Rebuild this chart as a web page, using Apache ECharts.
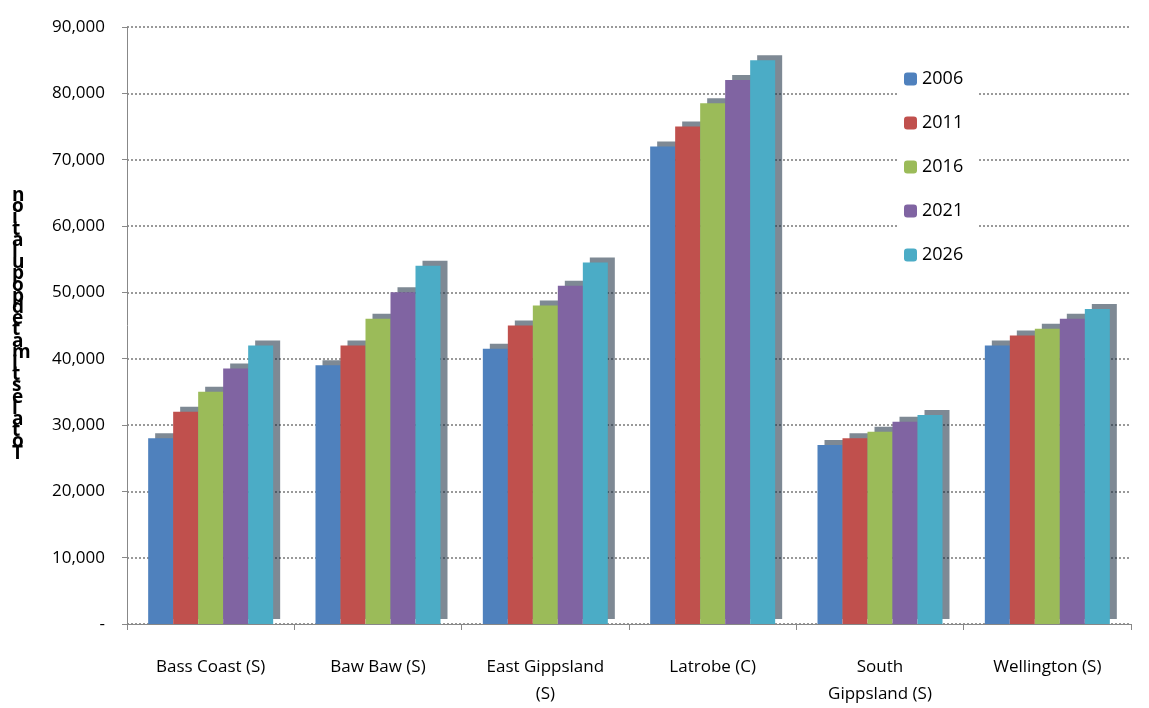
<!DOCTYPE html>
<html lang="en">
<head>
    <meta charset="UTF-8">
    <title>Gippsland population</title>
</head>
<body style="margin:0;background:#fff;">
<div id="chart" style="height:708px;width:1149px;"></div>
<script src="https://cdn.jsdelivr.net/npm/echarts@6/dist/echarts.min.js"></script>
<script>
    const categories = ['Bass Coast (S)', 'Baw Baw (S)', 'East Gippsland\n(S)', 'Latrobe (C)', 'South\nGippsland (S)', 'Wellington (S)'];
    const years = ['2006', '2011', '2016', '2021', '2026'];
    const colors = ['#4f81bd', '#c0504d', '#9bbb59', '#8064a2', '#4bacc6'];
    // one array per year, in category order
    const v2006 = [28000, 39000, 41500, 72000, 27000, 42000];
    const v2011 = [32000, 42000, 45000, 75000, 28000, 43500];
    const v2016 = [35000, 46000, 48000, 78500, 29000, 44500];
    const v2021 = [38500, 50000, 51000, 82000, 30500, 46000];
    const v2026 = [42000, 54000, 54500, 85000, 31500, 47500];
    const values = [v2006, v2011, v2016, v2021, v2026];
    const yTitle = 'noitalupopdetamitselatoT';

    let chart = echarts.init(document.getElementById('chart'));

    let series = years.map(function (y, i) {
        return {
            name: y,
            type: 'bar',
            data: values[i],
            barWidth: 25,
            barGap: '0%',
            itemStyle: {
                color: colors[i],
                shadowColor: 'rgba(20,40,60,0.55)',
                shadowBlur: 0,
                shadowOffsetX: 7,
                shadowOffsetY: -5
            }
        };
    });

    chart.setOption({
        animation: false,
        textStyle: {fontFamily: 'Open Sans', color: '#000'},
        grid: {left: 127, right: 18, top: 27, bottom: 83},
        legend: {
            orient: 'vertical',
            left: 898, top: 66,
            itemWidth: 13, itemHeight: 13, itemGap: 26,
            backgroundColor: '#fff',
            padding: [4, 14, 4, 6],
            textStyle: {fontSize: 18, color: '#000', fontFamily: 'Open Sans'},
            data: years
        },
        xAxis: {
            type: 'category',
            data: categories,
            axisLine: {lineStyle: {color: '#888'}},
            axisTick: {show: true, length: 6, lineStyle: {color: '#888'}},
            axisLabel: {fontSize: 17, color: '#000', margin: 30, lineHeight: 27}
        },
        yAxis: {
            type: 'value',
            min: 0, max: 90000, interval: 10000,
            axisLine: {show: true, lineStyle: {color: '#888'}},
            axisTick: {show: true, lineStyle: {color: '#888'}},
            splitLine: {lineStyle: {color: '#999', type: 'dotted', width: 2}},
            axisLabel: {
                fontSize: 17, color: '#000', margin: 22,
                formatter: function (v) { return v === 0 ? '-' : v.toLocaleString('en-US'); }
            }
        },
        graphic: [{
            type: 'text',
            left: 12, top: 186,
            style: {
                text: yTitle.split('').join('\n'),
                font: 'bold 19px "Open Sans"',
                lineHeight: 11.2,
                fill: '#000'
            }
        }],
        series: series
    });
</script>
</body>
</html>
